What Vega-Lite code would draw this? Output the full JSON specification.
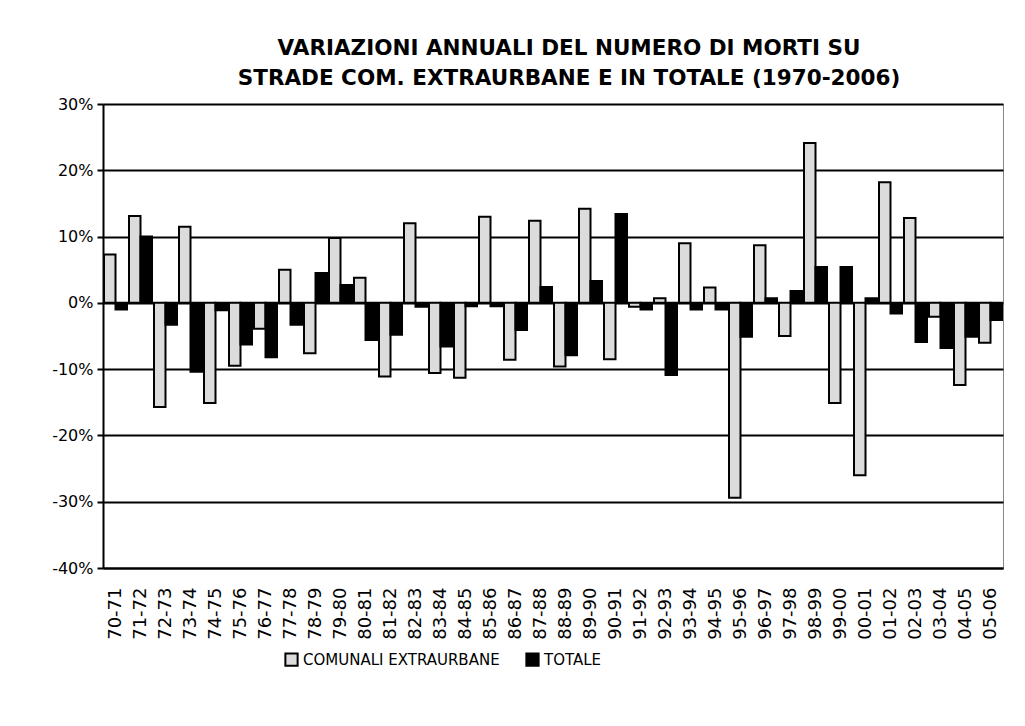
{
  "$schema": "https://vega.github.io/schema/vega-lite/v6.json",
  "width": 900,
  "height": 464,
  "autosize": {"type": "none"},
  "padding": {"left": 103, "top": 104, "right": 22, "bottom": 158},
  "background": "white",
  "title": {
    "text": ["VARIAZIONI ANNUALI DEL NUMERO DI MORTI SU", "STRADE COM. EXTRAURBANE E IN TOTALE (1970-2006)"],
    "font": "DejaVu Sans",
    "fontSize": 21.5,
    "fontWeight": "bold",
    "color": "black",
    "anchor": "middle",
    "dx": 16,
    "offset": 7,
    "lineHeight": 30
  },
  "data": {
    "values": [
      {"periodo": "70-71", "serie": "COMUNALI EXTRAURBANE", "valore": 7.3}, {"periodo": "70-71", "serie": "TOTALE", "valore": -1.0},
      {"periodo": "71-72", "serie": "COMUNALI EXTRAURBANE", "valore": 13.1}, {"periodo": "71-72", "serie": "TOTALE", "valore": 10.0},
      {"periodo": "72-73", "serie": "COMUNALI EXTRAURBANE", "valore": -15.7}, {"periodo": "72-73", "serie": "TOTALE", "valore": -3.3},
      {"periodo": "73-74", "serie": "COMUNALI EXTRAURBANE", "valore": 11.5}, {"periodo": "73-74", "serie": "TOTALE", "valore": -10.4},
      {"periodo": "74-75", "serie": "COMUNALI EXTRAURBANE", "valore": -15.1}, {"periodo": "74-75", "serie": "TOTALE", "valore": -1.1},
      {"periodo": "75-76", "serie": "COMUNALI EXTRAURBANE", "valore": -9.5}, {"periodo": "75-76", "serie": "TOTALE", "valore": -6.3},
      {"periodo": "76-77", "serie": "COMUNALI EXTRAURBANE", "valore": -3.9}, {"periodo": "76-77", "serie": "TOTALE", "valore": -8.2},
      {"periodo": "77-78", "serie": "COMUNALI EXTRAURBANE", "valore": 5.0}, {"periodo": "77-78", "serie": "TOTALE", "valore": -3.3},
      {"periodo": "78-79", "serie": "COMUNALI EXTRAURBANE", "valore": -7.6}, {"periodo": "78-79", "serie": "TOTALE", "valore": 4.5},
      {"periodo": "79-80", "serie": "COMUNALI EXTRAURBANE", "valore": 9.8}, {"periodo": "79-80", "serie": "TOTALE", "valore": 2.7},
      {"periodo": "80-81", "serie": "COMUNALI EXTRAURBANE", "valore": 3.8}, {"periodo": "80-81", "serie": "TOTALE", "valore": -5.6},
      {"periodo": "81-82", "serie": "COMUNALI EXTRAURBANE", "valore": -11.1}, {"periodo": "81-82", "serie": "TOTALE", "valore": -4.8},
      {"periodo": "82-83", "serie": "COMUNALI EXTRAURBANE", "valore": 12.0}, {"periodo": "82-83", "serie": "TOTALE", "valore": -0.6},
      {"periodo": "83-84", "serie": "COMUNALI EXTRAURBANE", "valore": -10.6}, {"periodo": "83-84", "serie": "TOTALE", "valore": -6.6},
      {"periodo": "84-85", "serie": "COMUNALI EXTRAURBANE", "valore": -11.3}, {"periodo": "84-85", "serie": "TOTALE", "valore": -0.5},
      {"periodo": "85-86", "serie": "COMUNALI EXTRAURBANE", "valore": 13.0}, {"periodo": "85-86", "serie": "TOTALE", "valore": -0.5},
      {"periodo": "86-87", "serie": "COMUNALI EXTRAURBANE", "valore": -8.6}, {"periodo": "86-87", "serie": "TOTALE", "valore": -4.1},
      {"periodo": "87-88", "serie": "COMUNALI EXTRAURBANE", "valore": 12.4}, {"periodo": "87-88", "serie": "TOTALE", "valore": 2.4},
      {"periodo": "88-89", "serie": "COMUNALI EXTRAURBANE", "valore": -9.6}, {"periodo": "88-89", "serie": "TOTALE", "valore": -7.9},
      {"periodo": "89-90", "serie": "COMUNALI EXTRAURBANE", "valore": 14.2}, {"periodo": "89-90", "serie": "TOTALE", "valore": 3.3},
      {"periodo": "90-91", "serie": "COMUNALI EXTRAURBANE", "valore": -8.5}, {"periodo": "90-91", "serie": "TOTALE", "valore": 13.4},
      {"periodo": "91-92", "serie": "COMUNALI EXTRAURBANE", "valore": -0.6}, {"periodo": "91-92", "serie": "TOTALE", "valore": -1.0},
      {"periodo": "92-93", "serie": "COMUNALI EXTRAURBANE", "valore": 0.7}, {"periodo": "92-93", "serie": "TOTALE", "valore": -10.9},
      {"periodo": "93-94", "serie": "COMUNALI EXTRAURBANE", "valore": 9.0}, {"periodo": "93-94", "serie": "TOTALE", "valore": -1.0},
      {"periodo": "94-95", "serie": "COMUNALI EXTRAURBANE", "valore": 2.3}, {"periodo": "94-95", "serie": "TOTALE", "valore": -1.0},
      {"periodo": "95-96", "serie": "COMUNALI EXTRAURBANE", "valore": -29.4}, {"periodo": "95-96", "serie": "TOTALE", "valore": -5.1},
      {"periodo": "96-97", "serie": "COMUNALI EXTRAURBANE", "valore": 8.7}, {"periodo": "96-97", "serie": "TOTALE", "valore": 0.7},
      {"periodo": "97-98", "serie": "COMUNALI EXTRAURBANE", "valore": -5.0}, {"periodo": "97-98", "serie": "TOTALE", "valore": 1.8},
      {"periodo": "98-99", "serie": "COMUNALI EXTRAURBANE", "valore": 24.1}, {"periodo": "98-99", "serie": "TOTALE", "valore": 5.4},
      {"periodo": "99-00", "serie": "COMUNALI EXTRAURBANE", "valore": -15.1}, {"periodo": "99-00", "serie": "TOTALE", "valore": 5.4},
      {"periodo": "00-01", "serie": "COMUNALI EXTRAURBANE", "valore": -26.0}, {"periodo": "00-01", "serie": "TOTALE", "valore": 0.7},
      {"periodo": "01-02", "serie": "COMUNALI EXTRAURBANE", "valore": 18.2}, {"periodo": "01-02", "serie": "TOTALE", "valore": -1.6},
      {"periodo": "02-03", "serie": "COMUNALI EXTRAURBANE", "valore": 12.8}, {"periodo": "02-03", "serie": "TOTALE", "valore": -5.9},
      {"periodo": "03-04", "serie": "COMUNALI EXTRAURBANE", "valore": -2.1}, {"periodo": "03-04", "serie": "TOTALE", "valore": -6.8},
      {"periodo": "04-05", "serie": "COMUNALI EXTRAURBANE", "valore": -12.4}, {"periodo": "04-05", "serie": "TOTALE", "valore": -5.1},
      {"periodo": "05-06", "serie": "COMUNALI EXTRAURBANE", "valore": -6.0}, {"periodo": "05-06", "serie": "TOTALE", "valore": -2.6}
    ]
  },
  "mark": {"type": "bar", "stroke": "black", "strokeWidth": 2},
  "encoding": {
    "x": {
      "field": "periodo",
      "type": "nominal",
      "sort": null,
      "scale": {"paddingInner": 0.08, "paddingOuter": 0.04},
      "axis": {
        "title": null,
        "labelAngle": -90,
        "labelFont": "DejaVu Sans",
        "labelFontSize": 18,
        "labelColor": "black",
        "labelPadding": 19,
        "ticks": false,
        "domainColor": "black",
        "domainWidth": 2
      }
    },
    "xOffset": {
      "field": "serie",
      "type": "nominal",
      "sort": ["COMUNALI EXTRAURBANE", "TOTALE"]
    },
    "y": {
      "field": "valore",
      "type": "quantitative",
      "scale": {"domain": [-40, 30], "nice": false, "zero": false},
      "axis": {
        "title": null,
        "values": [-40, -30, -20, -10, 0, 10, 20, 30],
        "labelExpr": "datum.value + '%'",
        "labelFont": "DejaVu Sans",
        "labelFontSize": 16,
        "labelColor": "black",
        "labelPadding": 4,
        "grid": true,
        "gridColor": "black",
        "gridWidth": 2,
        "gridOpacity": 1,
        "domainColor": "black",
        "domainWidth": 2,
        "tickColor": "black",
        "tickWidth": 2,
        "tickSize": 6
      }
    },
    "fill": {
      "field": "serie",
      "type": "nominal",
      "scale": {"domain": ["COMUNALI EXTRAURBANE", "TOTALE"], "range": ["#dcdcdc", "black"]},
      "legend": {
        "title": null,
        "orient": "none",
        "direction": "horizontal",
        "legendX": 181,
        "legendY": 548,
        "symbolType": "square",
        "symbolSize": 150,
        "symbolStrokeColor": "black",
        "symbolStrokeWidth": 2,
        "symbolOpacity": 1,
        "labelFont": "DejaVu Sans",
        "labelFontSize": 15,
        "labelColor": "black",
        "labelOffset": 4,
        "labelLimit": 0,
        "columnPadding": 22
      }
    }
  },
  "config": {
    "view": {"stroke": "#888888", "strokeWidth": 1}
  }
}
